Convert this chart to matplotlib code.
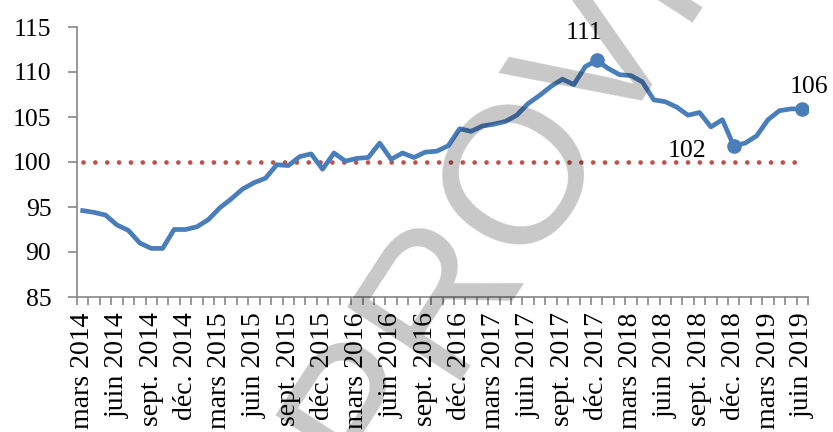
import matplotlib
matplotlib.use("Agg")
import matplotlib.pyplot as plt
import numpy as np

# monthly index from mars 2014 to juin 2019
values = [94.6, 94.4, 94.1, 93.0, 92.4, 91.0, 90.4, 90.4, 92.5, 92.5, 92.8, 93.6,
          94.9, 95.9, 97.0, 97.7, 98.2, 99.7, 99.6, 100.6, 100.9, 99.2, 101.0, 100.1,
          100.4, 100.5, 102.1, 100.3, 101.0, 100.5, 101.1, 101.2, 101.8, 103.7, 103.4, 104.0,
          104.2, 104.5, 105.2, 106.5, 107.4, 108.4, 109.2, 108.6, 110.6, 111.3, 110.4, 109.7,
          109.6, 108.9, 106.9, 106.7, 106.1, 105.2, 105.5, 103.9, 104.7, 101.8, 102.1, 102.9,
          104.7, 105.7, 105.9, 105.9]
reference = 100
highlight_idx = [45, 57, 63]
highlight_labels = ["111", "102", "106"]
tick_labels = ["mars 2014", "juin 2014", "sept. 2014", "déc. 2014",
               "mars 2015", "juin 2015", "sept. 2015", "déc. 2015",
               "mars 2016", "juin 2016", "sept. 2016", "déc. 2016",
               "mars 2017", "juin 2017", "sept. 2017", "déc. 2017",
               "mars 2018", "juin 2018", "sept. 2018", "déc. 2018",
               "mars 2019", "juin 2019"]

plt.rcParams['font.family'] = ['Liberation Serif', 'DejaVu Serif']
fig = plt.figure(figsize=(8.33, 4.32), dpi=100)
ax = fig.add_axes([77/833, 1-297/432, (808-77)/833, 270/432])

x = np.arange(len(values))
ax.plot(x, values, color="#4A7EBB", lw=3.4, solid_joinstyle='round', zorder=3)
ax.plot(x[highlight_idx], np.array(values)[highlight_idx], 'o', color="#4A7EBB", ms=9.5, zorder=4)
ax.plot([x[0], x[-1]], [reference, reference], color="#C0504D", lw=3.4,
        linestyle=(0, (0.01, 2.5)), dash_capstyle='round', zorder=2)

offsets = [(-9, 15, 'center'), (-20, -8, 'right'), (5, 11.5, 'center')]
for idx, lab, (dx, dy, ha) in zip(highlight_idx, highlight_labels, offsets):
    ax.annotate(lab, (x[idx], values[idx]), xytext=(dx, dy), textcoords='offset points',
                ha=ha, va='baseline', fontsize=18.5, color='black', zorder=5)

ax.set_xlim(-0.5, len(values) - 0.5)
ax.set_ylim(85, 115)
ax.set_yticks(np.arange(85, 116, 5))
ax.set_xticks(x[::3])
ax.set_xticklabels(tick_labels, rotation=90)
ax.set_xticks(np.arange(-0.5, len(values), 1), minor=True)
ax.tick_params(axis='x', which='major', length=0, pad=11, labelsize=20)
ax.tick_params(axis='x', which='minor', length=5.5, color='#868686', width=1.2, direction='out')
ax.tick_params(axis='y', length=6.5, color='#868686', width=1.2, labelsize=18.5, pad=12)
for s in ['top', 'right']:
    ax.spines[s].set_visible(False)
for s in ['left', 'bottom']:
    ax.spines[s].set_color('#868686')
    ax.spines[s].set_linewidth(1.2)

# watermark
fig.text(374/833, 1-489/432, "PROVISOIRE", fontsize=141, family='Liberation Sans',
         color='black', alpha=0.22, rotation=57, rotation_mode='anchor',
         ha='left', va='baseline', zorder=10)

fig.savefig("out.png", dpi=100)
